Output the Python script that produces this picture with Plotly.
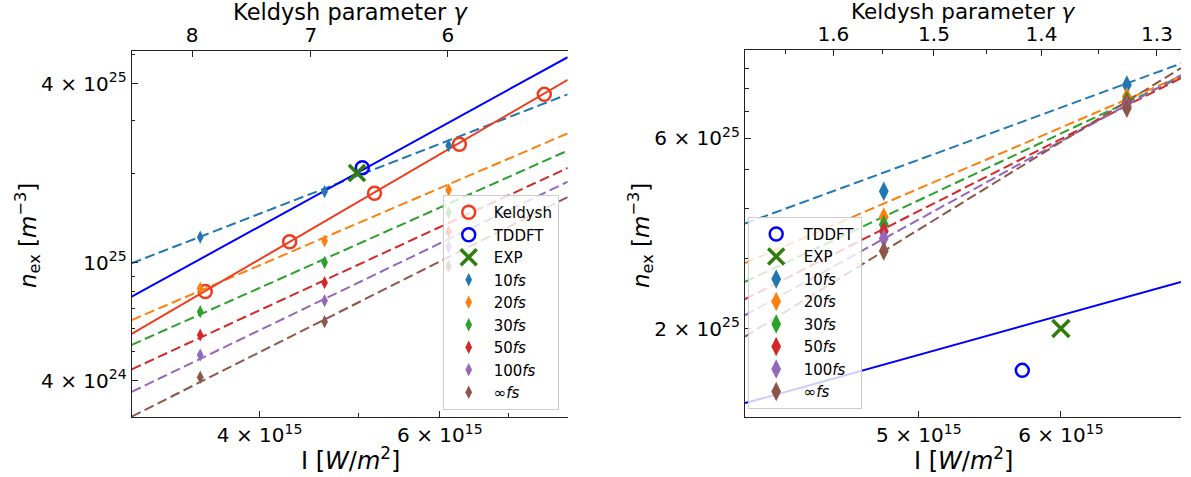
import numpy as np
import plotly.graph_objects as go

W, H = 1191, 477
FONT = "DejaVu Sans"

# ---------------- data: left panel ----------------
left_I_lim = [3.0e15, 8.0e15]
left_n_lim = [3.02e24, 5.15e25]
left_gamma_C = 4.69e8            # gamma = C / sqrt(I)
left_gamma_ticks = [8, 7, 6]

keldysh_I = [3.54e15, 4.28e15, 5.18e15, 6.27e15, 7.59e15]
keldysh_n = [7.98e24, 1.175e25, 1.71e25, 2.50e25, 3.68e25]
keldysh_line_n = [5.75e24, 4.12e25]          # at left_I_lim

tddft_left_I = [5.04e15]
tddft_left_n = [2.085e25]
tddft_left_line_n = [7.67e24, 4.91e25]       # at left_I_lim

exp_left_I = [4.98e15]
exp_left_n = [2.0e25]

pulse_names = ["10", "20", "30", "50", "100", "∞"]
left_pulse_I = [3.50e15, 4.63e15, 6.12e15]
left_n_10 = [1.217e25, 1.731e25, 2.474e25]
left_n_20 = [8.19e24, 1.181e25, 1.754e25]
left_n_30 = [6.83e24, 1.00e25, 1.471e25]
left_n_50 = [5.70e24, 8.55e24, 1.27e25]
left_n_100 = [4.88e24, 7.44e24, 1.13e25]
left_n_inf = [4.11e24, 6.32e24, 9.73e24]
# dashed fits, values at left_I_lim
left_fit_10 = [9.94e24, 3.68e25]
left_fit_20 = [6.40e24, 2.72e25]
left_fit_30 = [5.28e24, 2.38e25]
left_fit_50 = [4.37e24, 2.08e25]
left_fit_100 = [3.67e24, 1.87e25]
left_fit_inf = [3.03e24, 1.66e25]

# ---------------- data: right panel ----------------
right_I_lim = [4.0e15, 7.0e15]
right_n_lim = [1.2e25, 1.0e26]
right_gamma_C = 1.071e8
right_gamma_ticks = [1.6, 1.5, 1.4, 1.3]
right_gamma_minor = [1.65, 1.55, 1.45, 1.35]

tddft_right_I = [5.71e15]
tddft_right_n = [1.571e25]
tddft_right_line_n = [1.30e25, 2.62e25]      # at right_I_lim

exp_right_I = [6.0e15]
exp_right_n = [2.0e25]

right_pulse_I = [4.78e15, 6.53e15]
right_n_10 = [4.42e25, 8.17e25]
right_n_20 = [3.81e25, 7.63e25]
right_n_30 = [3.65e25, 7.48e25]
right_n_50 = [3.51e25, 7.35e25]
right_n_100 = [3.37e25, 7.25e25]
right_n_inf = [3.13e25, 7.14e25]
right_fit_10 = [3.67e25, 9.25e25]
right_fit_20 = [2.92e25, 8.60e25]
right_fit_30 = [2.62e25, 8.55e25]
right_fit_50 = [2.37e25, 8.50e25]
right_fit_100 = [2.16e25, 8.65e25]
right_fit_inf = [1.91e25, 9.01e25]

# tick definitions
left_x_ticks = [4e15, 6e15]
left_x_ticktext = ["4 × 10<sup>15</sup>", "6 × 10<sup>15</sup>"]
left_x_minor = [3e15, 5e15, 7e15, 8e15]
left_y_ticks = [4e24, 1e25, 4e25]
left_y_ticktext = ["4 × 10<sup>24</sup>", "10<sup>25</sup>", "4 × 10<sup>25</sup>"]
left_y_minor = [5e24, 6e24, 7e24, 8e24, 9e24, 2e25, 3e25, 5e25]
right_x_ticks = [5e15, 6e15]
right_x_ticktext = ["5 × 10<sup>15</sup>", "6 × 10<sup>15</sup>"]
right_x_minor = [4e15, 7e15]
right_y_ticks = [2e25, 6e25]
right_y_ticktext = ["2 × 10<sup>25</sup>", "6 × 10<sup>25</sup>"]
right_y_minor = [3e25, 4e25, 5e25, 7e25, 8e25, 9e25]

# ---------------- styles ----------------
TAB = ["#1f77b4", "#ff7f0e", "#2ca02c", "#d62728", "#9467bd", "#8c564b"]
RED = "#f03c1e"
BLUE = "#0000ff"
GREEN = "#2f7d0c"
AX = "#222222"
DASH = "10px,4.5px"

left_sets = [left_n_10, left_n_20, left_n_30, left_n_50, left_n_100, left_n_inf]
left_fits = [left_fit_10, left_fit_20, left_fit_30, left_fit_50, left_fit_100, left_fit_inf]
right_sets = [right_n_10, right_n_20, right_n_30, right_n_50, right_n_100, right_n_inf]
right_fits = [right_fit_10, right_fit_20, right_fit_30, right_fit_50, right_fit_100, right_fit_inf]

fig = go.Figure()

# ---- lines (drawn first) ----
for fit, c in zip(left_fits, TAB):
    fig.add_trace(go.Scatter(x=left_I_lim, y=fit, mode="lines", line=dict(color=c, width=2, dash=DASH),
                             showlegend=False, hoverinfo="skip", xaxis="x", yaxis="y"))
fig.add_trace(go.Scatter(x=left_I_lim, y=keldysh_line_n, mode="lines", line=dict(color=RED, width=2),
                         showlegend=False, hoverinfo="skip", xaxis="x", yaxis="y"))
fig.add_trace(go.Scatter(x=left_I_lim, y=tddft_left_line_n, mode="lines", line=dict(color=BLUE, width=2),
                         showlegend=False, hoverinfo="skip", xaxis="x", yaxis="y"))
for fit, c in zip(right_fits, TAB):
    fig.add_trace(go.Scatter(x=right_I_lim, y=fit, mode="lines", line=dict(color=c, width=2, dash=DASH),
                             showlegend=False, hoverinfo="skip", xaxis="x2", yaxis="y2"))
fig.add_trace(go.Scatter(x=right_I_lim, y=tddft_right_line_n, mode="lines", line=dict(color=BLUE, width=2),
                         showlegend=False, hoverinfo="skip", xaxis="x2", yaxis="y2"))

# ---- left markers (legend order) ----
fig.add_trace(go.Scatter(x=keldysh_I, y=keldysh_n, mode="markers", name="Keldysh",
                         marker=dict(symbol="circle-open", size=13, color=RED, line=dict(width=2.5, color=RED)),
                         xaxis="x", yaxis="y", legend="legend"))
fig.add_trace(go.Scatter(x=tddft_left_I, y=tddft_left_n, mode="markers", name="TDDFT",
                         marker=dict(symbol="circle-open", size=13, color=BLUE, line=dict(width=2.5, color=BLUE)),
                         xaxis="x", yaxis="y", legend="legend"))
fig.add_trace(go.Scatter(x=exp_left_I, y=exp_left_n, mode="markers", name="EXP",
                         marker=dict(symbol="x-thin", size=16, color=GREEN, line=dict(width=3.5, color=GREEN)),
                         xaxis="x", yaxis="y", legend="legend"))
for name, vals, c in zip(pulse_names, left_sets, TAB):
    fig.add_trace(go.Scatter(x=left_pulse_I, y=vals, mode="markers", name=name + "<i>fs</i>",
                             marker=dict(symbol="diamond-tall", size=9.5, color=c),
                             xaxis="x", yaxis="y", legend="legend"))

# ---- right markers ----
fig.add_trace(go.Scatter(x=tddft_right_I, y=tddft_right_n, mode="markers", name="TDDFT",
                         marker=dict(symbol="circle-open", size=13, color=BLUE, line=dict(width=2.5, color=BLUE)),
                         xaxis="x2", yaxis="y2", legend="legend2"))
fig.add_trace(go.Scatter(x=exp_right_I, y=exp_right_n, mode="markers", name="EXP",
                         marker=dict(symbol="x-thin", size=17, color=GREEN, line=dict(width=3.5, color=GREEN)),
                         xaxis="x2", yaxis="y2", legend="legend2"))
for name, vals, c in zip(pulse_names, right_sets, TAB):
    fig.add_trace(go.Scatter(x=right_pulse_I, y=vals, mode="markers", name=name + "<i>fs</i>",
                             marker=dict(symbol="diamond-tall", size=14, color=c),
                             xaxis="x2", yaxis="y2", legend="legend2"))

# invisible traces to hold the top axes
fig.add_trace(go.Scatter(x=left_I_lim, y=left_n_lim, mode="markers", marker=dict(opacity=0),
                         showlegend=False, hoverinfo="skip", xaxis="x3", yaxis="y"))
fig.add_trace(go.Scatter(x=right_I_lim, y=right_n_lim, mode="markers", marker=dict(opacity=0),
                         showlegend=False, hoverinfo="skip", xaxis="x4", yaxis="y2"))

# ---------------- layout ----------------
def px_x(p):
    return p / W

def px_y(p):
    return 1 - p / H

L_dom = [px_x(131.7), px_x(567.7)]
R_dom = [px_x(745), px_x(1181)]
LY_dom = [px_y(417), px_y(51)]
RY_dom = [px_y(417), px_y(50)]

tickfont = dict(family=FONT, size=20, color="black")

def logr(v):
    return [float(np.log10(v[0])), float(np.log10(v[1]))]

def minor(vals):
    return dict(tickmode="array", tickvals=vals, ticks="inside", ticklen=3.5, tickcolor=AX, tickwidth=1)

def base_axis(**kw):
    d = dict(type="log", showgrid=False, zeroline=False, showline=True, linecolor=AX, linewidth=1.3,
             mirror=False, ticks="inside", ticklen=6, tickwidth=1.2, tickcolor=AX, tickfont=tickfont,
             tickmode="array", fixedrange=True)
    d.update(kw)
    return d

def gamma_pos(C, gs):
    return [(C / g) ** 2 for g in gs]

fig.update_layout(
    width=W, height=H, margin=dict(l=0, r=0, t=0, b=0),
    paper_bgcolor="white", plot_bgcolor="white",
    font=dict(family=FONT, color="black"),
    xaxis=base_axis(domain=L_dom, anchor="y", range=logr(left_I_lim), tickvals=left_x_ticks,
                    ticktext=left_x_ticktext, minor=minor(left_x_minor)),
    yaxis=base_axis(domain=LY_dom, anchor="x", range=logr(left_n_lim), tickvals=left_y_ticks,
                    ticktext=left_y_ticktext, minor=minor(left_y_minor)),
    xaxis3=base_axis(overlaying="x", side="top", anchor="y", range=logr(left_I_lim),
                     tickvals=gamma_pos(left_gamma_C, left_gamma_ticks),
                     ticktext=[str(g) for g in left_gamma_ticks]),
    xaxis2=base_axis(domain=R_dom, anchor="y2", range=logr(right_I_lim), tickvals=right_x_ticks,
                     ticktext=right_x_ticktext, minor=minor(right_x_minor)),
    yaxis2=base_axis(domain=RY_dom, anchor="x2", range=logr(right_n_lim), tickvals=right_y_ticks,
                     ticktext=right_y_ticktext, minor=minor(right_y_minor)),
    xaxis4=base_axis(overlaying="x2", side="top", anchor="y2", range=logr(right_I_lim),
                     tickvals=gamma_pos(right_gamma_C, right_gamma_ticks),
                     ticktext=[str(g) for g in right_gamma_ticks],
                     minor=minor(gamma_pos(right_gamma_C, right_gamma_minor))),
    legend=dict(x=px_x(442.7), y=px_y(195), xanchor="left", yanchor="top",
                bgcolor="rgba(255,255,255,0.8)", bordercolor="#cccccc", borderwidth=1,
                font=dict(family=FONT, size=15, color="black"), itemwidth=40, itemsizing="trace",
                tracegroupgap=0),
    legend2=dict(x=px_x(747.7), y=px_y(216.7), xanchor="left", yanchor="top",
                 bgcolor="rgba(255,255,255,0.8)", bordercolor="#cccccc", borderwidth=1,
                 font=dict(family=FONT, size=15, color="black"), itemwidth=45, itemsizing="trace",
                 tracegroupgap=0),
)

# axis titles as annotations
ann = [
    (350, 12, "Keldysh parameter <i>γ</i>", 0, 22.5),
    (350, 459, "I [<i>W</i>/<i>m</i><sup>2</sup>]", 0, 24),
    (28, 236, "<i>n</i><sub>ex</sub> [<i>m</i><sup>−3</sup>]", -90, 23),
    (963, 12, "Keldysh parameter <i>γ</i>", 0, 21.5),
    (963, 459, "I [<i>W</i>/<i>m</i><sup>2</sup>]", 0, 24),
    (641, 236, "<i>n</i><sub>ex</sub> [<i>m</i><sup>−3</sup>]", -90, 23),
]
for x, y, t, a, s in ann:
    fig.add_annotation(x=px_x(x), y=px_y(y), xref="paper", yref="paper", text=t, showarrow=False,
                       textangle=a, font=dict(family=FONT, size=s, color="black"),
                       xanchor="center", yanchor="middle", borderpad=0)

# the page's default body margin would push the fixed-size figure off the window
fig.write_html("out.html", config={"displayModeBar": False},
               post_script="document.body.style.margin='0px';")
